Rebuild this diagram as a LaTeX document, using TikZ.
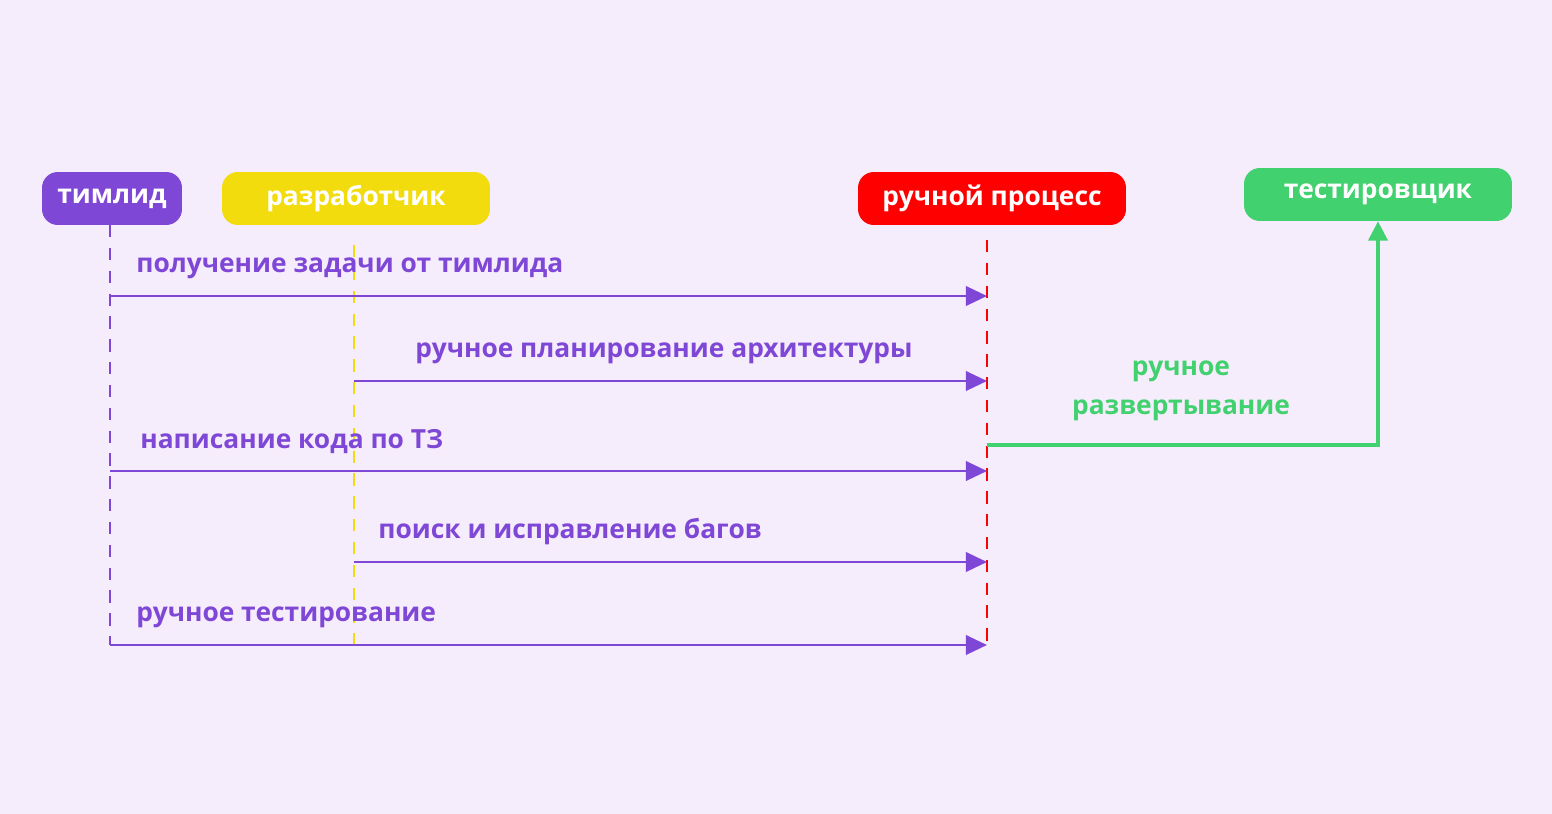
\documentclass[tikz,border=0pt]{standalone}
\usepackage{fontspec}
\setmainfont{Open Sans}
\usetikzlibrary{arrows.meta}
\definecolor{bg}{HTML}{F5ECFC}
\definecolor{lead}{HTML}{7F47D6}
\definecolor{dev}{HTML}{F2DC0E}
\definecolor{proc}{HTML}{FF0000}
\definecolor{qa}{HTML}{42D16F}
\tikzset{
  actor/.style={rounded corners=9pt, text=white, font=\bfseries\fontsize{15}{18}\selectfont, minimum height=1.06cm, inner sep=0pt},
  msg/.style={lead, line width=1.6pt, -{Triangle[length=12pt,width=11pt]}},
  lbl/.style={text=lead, font=\bfseries\fontsize{15}{18}\selectfont, anchor=south west, inner sep=0pt},
  life/.style={dashed, line width=0.9pt, dash pattern=on 7pt off 6pt}
}
\begin{document}
\begin{tikzpicture}[x=0.02cm, y=-0.02cm]
\fill[bg] (0,0) rectangle (1552,814);
\useasboundingbox (0,0) rectangle (1552,814);
% actors
\node[actor, fill=lead, minimum width=2.8cm] (lead) at (112,198.5) {тимлид};
\node[actor, fill=dev, minimum width=5.36cm] (dev) at (356,198.5) {разработчик};
\node[actor, fill=proc, minimum width=5.36cm] (proc) at (992,198.5) {ручной процесс};
\node[actor, fill=qa, minimum width=5.36cm] (qa) at (1378,194.5) {тестировщик};
% lifelines
\coordinate (l0) at (110,225); \coordinate (l1) at (110,645);
\coordinate (d0) at (354,245); \coordinate (d1) at (354,645);
\coordinate (p0) at (987,240); \coordinate (p1) at (987,650);
\draw[life, lead] (l0) -- (l1);
\draw[life, dev] (d0) -- (d1);
\draw[life, proc] (p0) -- (p1);
% messages
\foreach \sx/\y/\lx/\t in {110/296/136/получение задачи от тимлида,
                          354/381/415/ручное планирование архитектуры,
                          110/471/140/написание кода по ТЗ,
                          354/562/378/поиск и исправление багов,
                          110/645/136/ручное тестирование}{
  \coordinate (s) at (\sx,\y);
  \coordinate (e) at (987,\y);
  \draw[msg] (s) -- (e);
  \node[lbl] (t) at (\lx,\y-17) {\t};
}
% deployment
\coordinate (g0) at (987,445);
\coordinate (g1) at (1378,445);
\draw[qa, line width=1.8pt, -{Triangle[length=11pt,width=11pt]}] (g0) -- (g1) -- (qa.south);
\node[text=qa, font=\bfseries\fontsize{15}{22}\selectfont, align=center] (dep) at (1181,391) {ручное\\развертывание};
\end{tikzpicture}
\end{document}
